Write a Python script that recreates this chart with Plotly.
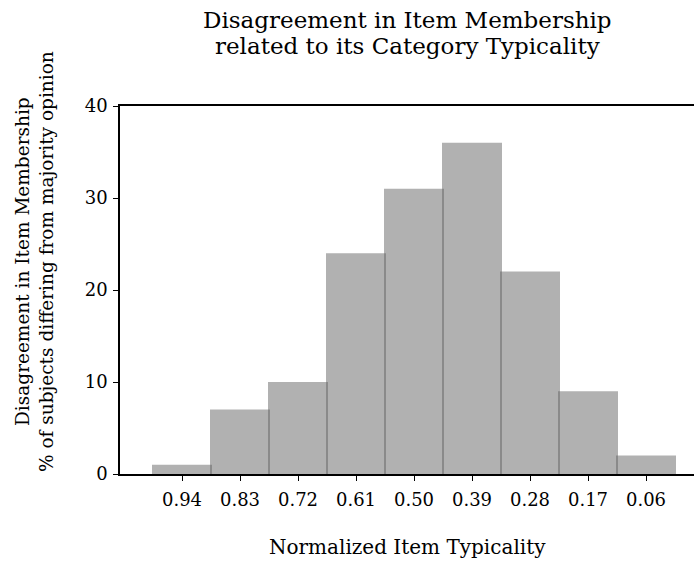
import plotly.graph_objects as go

categories = ["0.94", "0.83", "0.72", "0.61", "0.50", "0.39", "0.28", "0.17", "0.06"]
values = [1, 7, 10, 24, 31, 36, 22, 9, 2]
y_ticks = [0, 10, 20, 30, 40]

FONT = "DejaVu Serif"
positions = list(range(len(categories)))

W, H = 694, 561
l, r, t, b = 120, 0, 106, 87
pw, ph = W - l - r, H - t - b

def px_to_paper(px, py):
    return (px - l) / pw, (H - b - py) / ph

fig = go.Figure()
fig.add_trace(go.Bar(
    x=positions, y=values, width=60/58,
    marker=dict(color="rgba(100,100,100,0.5)", line=dict(width=0)),
    hoverinfo="skip",
))

ann_specs = [
    ("Disagreement in Item Membership", 407, 20, 0, 23),
    ("related to its Category Typicality", 407, 46, 0, 23),
    ("Normalized Item Typicality", 407, 547, 0, 20),
    ("Disagreement in Item Membership<br>% of subjects differing from majority opinion", 34, 262, -90, 18.5),
]
annotations = []
for text, px, py, ang, size in ann_specs:
    ax, ay = px_to_paper(px, py)
    annotations.append(dict(text=text, x=ax, y=ay, xref="paper", yref="paper",
                            xanchor="center", yanchor="middle", textangle=ang,
                            showarrow=False, font=dict(family=FONT, size=size, color="black")))

fig.update_layout(
    width=W, height=H,
    margin=dict(l=l, r=r, t=t, b=b),
    plot_bgcolor="white", paper_bgcolor="white",
    showlegend=False,
    font=dict(family=FONT, size=18, color="black"),
    xaxis=dict(
        range=[-62/58, 512/58],
        tickvals=positions, ticktext=categories,
        ticks="outside", ticklen=5, tickwidth=1.3, tickcolor="black",
        showline=True, linecolor="black", linewidth=1.6, mirror=True,
        showgrid=False, zeroline=False, ticklabelstandoff=4,
        tickfont=dict(family=FONT, size=18),
    ),
    yaxis=dict(
        range=[0, 40], tickvals=y_ticks,
        ticks="outside", ticklen=5, tickwidth=1.3, tickcolor="black",
        showline=True, linecolor="black", linewidth=1.6,
        showgrid=False, zeroline=False, ticklabelstandoff=2,
        tickfont=dict(family=FONT, size=18),
    ),
    annotations=annotations,
)

fig.write_html("out.html", config={"displayModeBar": False},
               post_script="document.body.style.margin='0';document.body.style.overflow='hidden';")
